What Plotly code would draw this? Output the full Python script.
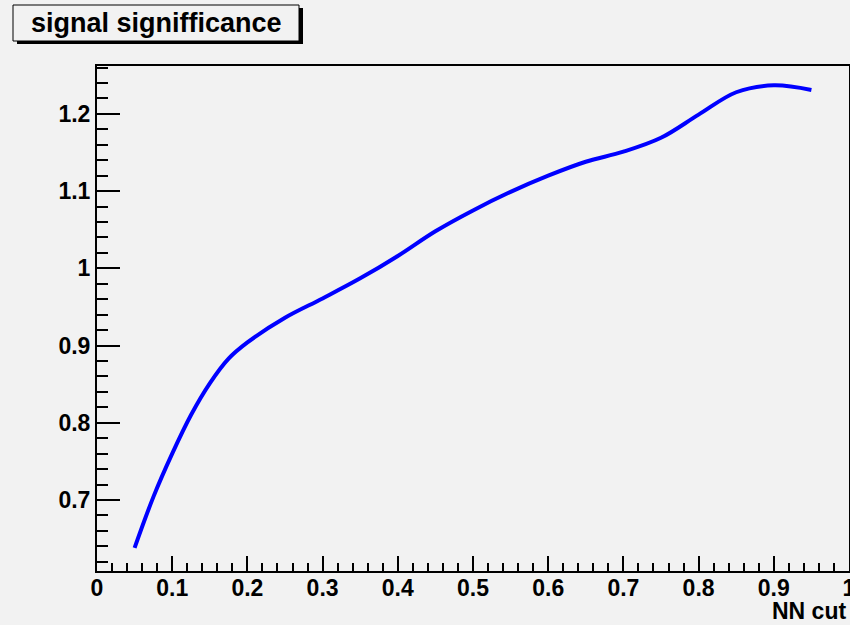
import plotly.graph_objects as go

# NN cut values and the resulting signal significance
nn_cut = [0.05, 0.075, 0.10, 0.125, 0.15, 0.175, 0.20, 0.25, 0.30, 0.35, 0.40,
          0.45, 0.50, 0.55, 0.60, 0.65, 0.70, 0.75, 0.80, 0.85, 0.90, 0.95]
significance = [0.638, 0.704, 0.760, 0.810, 0.851, 0.883, 0.904, 0.936, 0.961,
                0.987, 1.016, 1.048, 1.075, 1.099, 1.120, 1.138, 1.151, 1.169,
                1.199, 1.228, 1.237, 1.231]

x_ticks = [0, 0.1, 0.2, 0.3, 0.4, 0.5, 0.6, 0.7, 0.8, 0.9, 1]
x_tick_text = ["0", "0.1", "0.2", "0.3", "0.4", "0.5", "0.6", "0.7", "0.8", "0.9", "1"]
y_ticks = [0.7, 0.8, 0.9, 1.0, 1.1, 1.2]
y_tick_text = ["0.7", "0.8", "0.9", "1", "1.1", "1.2"]

title_text = "signal signifficance"
x_title = "NN cut"

W, H = 850, 625
L, R, T, B = 97, 1, 66, 54
BG = "#f2f2f2"
FONT = "Liberation Sans, Arial, sans-serif"

pw = W - L - R
ph = H - T - B


def px_x(p):
    return (p - L) / pw


def px_y(p):
    return (H - B - p) / ph


fig = go.Figure()
fig.add_trace(go.Scatter(
    x=nn_cut, y=significance, mode="lines",
    line=dict(color="#0000ff", width=4, shape="spline", smoothing=1.0),
    hoverinfo="skip", showlegend=False,
))

axis_common = dict(
    showgrid=False, zeroline=False, showline=True, linecolor="black",
    linewidth=2, mirror=True, ticks="inside", tickcolor="black",
    ticklabeloverflow="allow",
    tickfont=dict(family=FONT, size=23, color="black", weight="bold"),
)

fig.update_xaxes(
    range=[0, 1], tickvals=x_ticks, ticktext=x_tick_text, ticklen=15,
    tickwidth=1.5, ticklabelstandoff=-5,
    minor=dict(ticks="inside", ticklen=8, dtick=0.02,
               tickcolor="black", tickwidth=1.5, showgrid=False),
    **axis_common,
)
fig.update_yaxes(
    range=[0.608, 1.262], tickvals=y_ticks, ticktext=y_tick_text, ticklen=23,
    tickwidth=1.5,
    minor=dict(ticks="inside", ticklen=11, dtick=0.02,
               tickcolor="black", tickwidth=1.5, showgrid=False),
    **axis_common,
)

# Axis title at the lower right
fig.add_annotation(
    text=x_title, xref="paper", yref="paper", x=px_x(848), y=px_y(611),
    xanchor="right", yanchor="middle", showarrow=False,
    font=dict(family=FONT, size=23, color="black", weight="bold"),
)

# Title box with drop shadow
fig.add_shape(type="rect", xref="paper", yref="paper",
              x0=px_x(17), x1=px_x(303), y0=px_y(8), y1=px_y(44),
              fillcolor="black", line=dict(width=0), layer="above")
fig.add_shape(type="rect", xref="paper", yref="paper",
              x0=px_x(13), x1=px_x(299), y0=px_y(5), y1=px_y(41),
              fillcolor=BG, line=dict(color="black", width=1), layer="above")
fig.add_annotation(
    text=title_text, xref="paper", yref="paper", x=px_x(156), y=px_y(23),
    xanchor="center", yanchor="middle", showarrow=False,
    font=dict(family=FONT, size=27, color="black", weight="bold"),
)

fig.update_layout(
    width=W, height=H, margin=dict(l=L, r=R, t=T, b=B, autoexpand=False),
    paper_bgcolor=BG, plot_bgcolor=BG,
)

fig.write_html("out.html")
